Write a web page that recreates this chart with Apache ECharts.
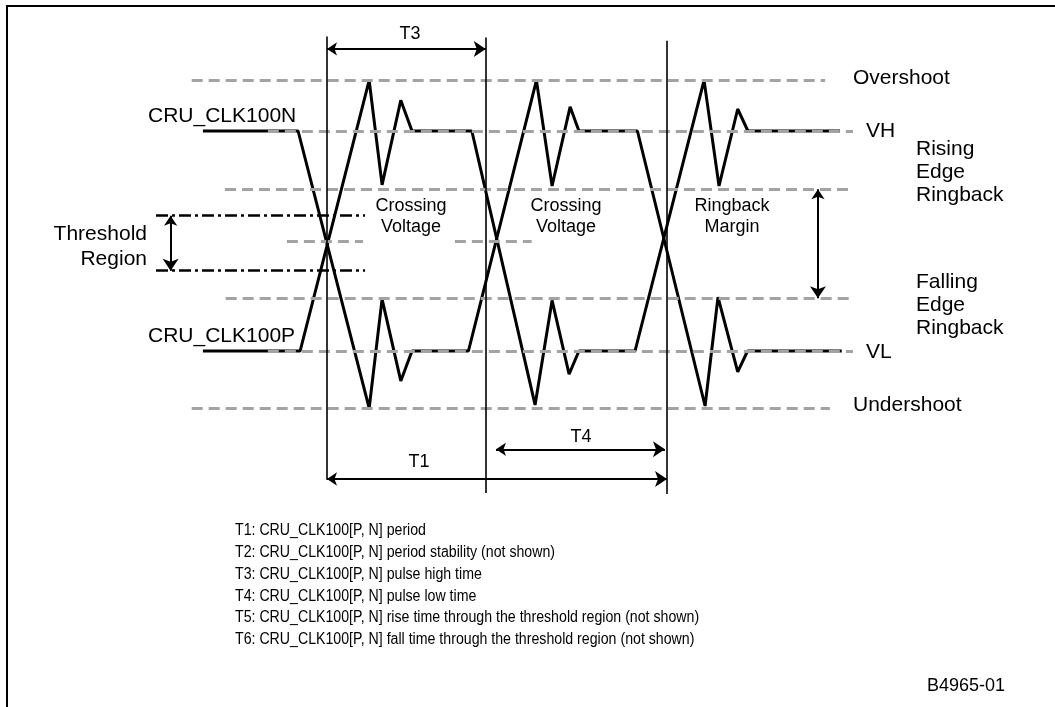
<!DOCTYPE html>
<html><head><meta charset="utf-8">
<script src="https://cdn.jsdelivr.net/npm/echarts@6/dist/echarts.min.js"></script>
<style>html,body{margin:0;padding:0;background:#fff}#c{width:1055px;height:707px}</style>
</head><body><div id="c"></div>
<script>
// Time in arbitrary units (T1 period = 10), voltage in % (VL = 0, VH = 100)
const clkNTime = [-3.65, -0.85, 1.24, 1.62, 2.17, 2.5, 4.16, 6.16, 6.62, 7.15, 7.41, 9.13, 11.12, 11.5, 12.08, 12.37, 15.14];
const clkNVolt = [100, 100, -26, 23.6, -13.6, 0, 0, 123, 75, 111, 100, 100, -25, 24.5, -9.5, 0, 0];
const clkPTime = [-3.65, -0.79, 1.24, 1.62, 2.17, 2.5, 4.26, 6.12, 6.62, 7.12, 7.41, 9.06, 11.09, 11.53, 12.08, 12.38, 15.09];
const clkPVolt = [0, 0, 123, 75.5, 114, 100, 100, -24.5, 23, -10.5, 0, 0, 123, 75, 110, 100, 100];

// reference levels (dashed gray)
const refY  = [123, 100, 73.5, 24, 0, -26, 50, 50];
const refX0 = [-3.98, -1.74, -3.0, -2.98, -1.74, -3.98, -1.18, 3.76];
const refX1 = [14.65, 15.47, 15.47, 15.47, 15.47, 14.79, 1.06, 6.02];

// threshold region (dash-dot)
const thresholdY = [61.5, 36.5];
const thresholdX = [-5.03, 1.12];

// timing markers (vertical lines)
const markT = [0, 4.67, 10];
const markTop = [143, 142.5, 141];
const markBottom = [-58.5, -64.5, -65];

// dimension arrows: [x0, y0, x1, y1]
const arrowT3 = [0, 137.3, 4.67, 137.3];
const arrowT4 = [4.97, -44.7, 9.94, -44.7];
const arrowT1 = [0, -58.2, 10, -58.2];
const arrowThreshold = [-4.6, 61.5, -4.6, 36.5];
const arrowMargin = [14.44, 73.5, 14.44, 24];

const footnotes = [
  'T1: CRU_CLK100[P, N] period',
  'T2: CRU_CLK100[P, N] period stability (not shown)',
  'T3: CRU_CLK100[P, N] pulse high time',
  'T4: CRU_CLK100[P, N] pulse low time',
  'T5: CRU_CLK100[P, N] rise time through the threshold region (not shown)',
  'T6: CRU_CLK100[P, N] fall time through the threshold region (not shown)'
];

const FONT = '"Liberation Sans", Arial, sans-serif';
function txt(x, y, s, size, align, extra) {
  return Object.assign({
    type: 'text', x: x, y: y, silent: true,
    style: { text: s, font: size + 'px ' + FONT, fill: '#000',
      textAlign: align || 'left', textVerticalAlign: 'middle',
      align: align || 'left', verticalAlign: 'middle' }
  }, extra || {});
}
const zip = (a, b) => a.map((v, i) => [v, b[i]]);
const seg = a => ({ coords: [[a[0], a[1]], [a[2], a[3]]] });

const graphics = [
  { type: 'line', shape: { x1: 6, y1: 6, x2: 1055, y2: 6 }, style: { stroke: '#000', lineWidth: 2 } },
  { type: 'line', shape: { x1: 7, y1: 5, x2: 7, y2: 707 }, style: { stroke: '#000', lineWidth: 2 } },
  txt(148, 116, 'CRU_CLK100N', 21),
  txt(148, 336, 'CRU_CLK100P', 21),
  txt(147, 234, 'Threshold', 21, 'right'),
  txt(147, 259, 'Region', 21, 'right'),
  txt(853, 78, 'Overshoot', 21),
  txt(866, 131, 'VH', 21),
  txt(916, 149, 'Rising', 21), txt(916, 172, 'Edge', 21), txt(916, 195, 'Ringback', 21),
  txt(916, 282, 'Falling', 21), txt(916, 305, 'Edge', 21), txt(916, 328, 'Ringback', 21),
  txt(866, 352, 'VL', 21),
  txt(853, 405, 'Undershoot', 21),
  txt(411, 206, 'Crossing', 18, 'center'), txt(411, 227, 'Voltage', 18, 'center'),
  txt(566, 206, 'Crossing', 18, 'center'), txt(566, 227, 'Voltage', 18, 'center'),
  txt(732, 206, 'Ringback', 18, 'center'), txt(732, 227, 'Margin', 18, 'center'),
  txt(410, 34, 'T3', 18, 'center'),
  txt(419, 462, 'T1', 18, 'center'),
  txt(581, 437, 'T4', 18, 'center'),
  txt(927, 686, 'B4965-01', 18)
];
footnotes.forEach((s, i) => graphics.push(txt(235, 531 + i * 21.7, s, 16, 'left', { scaleX: 0.885 })));

const chart = echarts.init(document.getElementById('c'), null, { renderer: 'canvas' });
chart.setOption({
  animation: false,
  backgroundColor: '#fff',
  grid: { left: 123, right: 184, top: 21, bottom: 180 },
  xAxis: { type: 'value', min: -6, max: 16, show: false },
  yAxis: { type: 'value', min: -80, max: 150, show: false },
  graphic: graphics,
  series: [
    { type: 'line', data: zip(clkNTime, clkNVolt), showSymbol: false, clip: false, z: 2,
      lineStyle: { color: '#000', width: 3, join: 'bevel' } },
    { type: 'line', data: zip(clkPTime, clkPVolt), showSymbol: false, clip: false, z: 2,
      lineStyle: { color: '#000', width: 3, join: 'bevel' } },
    { type: 'lines', coordinateSystem: 'cartesian2d', z: 3, silent: true,
      lineStyle: { color: '#a3a3a3', width: 3, type: [11, 6], opacity: 1 },
      data: refY.map((y, i) => ({ coords: [[refX0[i], y], [refX1[i], y]] })) },
    { type: 'lines', coordinateSystem: 'cartesian2d', z: 3, silent: true,
      lineStyle: { color: '#000', width: 2.5, type: [12, 4, 3, 4], opacity: 1 },
      data: thresholdY.map(y => ({ coords: [[thresholdX[0], y], [thresholdX[1], y]] })) },
    { type: 'lines', coordinateSystem: 'cartesian2d', z: 4, silent: true,
      lineStyle: { color: '#000', width: 1.6, opacity: 1 },
      data: markT.map((t, i) => ({ coords: [[t, markTop[i]], [t, markBottom[i]]] })) },
    { type: 'lines', coordinateSystem: 'cartesian2d', z: 4, silent: true,
      symbol: ['arrow', 'arrow'], symbolSize: [10, 12],
      lineStyle: { color: '#000', width: 2, opacity: 1 },
      data: [seg(arrowT3), seg(arrowT4), seg(arrowT1), seg(arrowThreshold), seg(arrowMargin)] }
  ]
});
</script></body></html>
